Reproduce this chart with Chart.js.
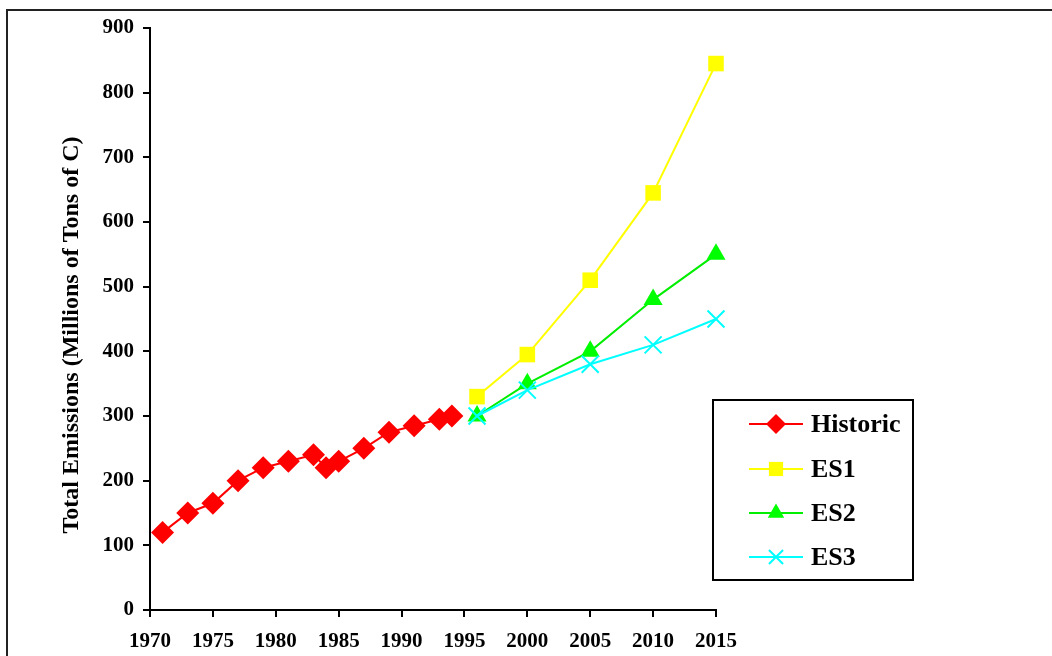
<!DOCTYPE html>
<html>
<head>
<meta charset="utf-8">
<script src="https://cdn.jsdelivr.net/npm/chart.js@4/dist/chart.umd.min.js"></script>
<style>
  html, body { margin: 0; padding: 0; background: #fff; }
  #wrap { width: 1052px; height: 656px; position: relative; }
</style>
</head>
<body>
<div id="wrap"><canvas id="emissionsChart" width="1052" height="656"></canvas></div>
<script>
// data
const histYears = [1971, 1973, 1975, 1977, 1979, 1981, 1983, 1984, 1985, 1987, 1989, 1991, 1993, 1994];
const histValues = [120, 150, 165, 200, 220, 230, 240, 220, 230, 250, 275, 285, 295, 300];
const scenarioYears = [1996, 2000, 2005, 2010, 2015];
const es1Values = [330, 395, 510, 645, 845];
const es2Values = [300, 350, 400, 480, 550];
const es3Values = [300, 340, 380, 410, 450];
const seriesNames = ['Historic', 'ES1', 'ES2', 'ES3'];
const yTitle = 'Total Emissions (Millions of Tons of C)';

const FONT = '"Liberation Serif", "Times New Roman", serif';

function pts(xs, ys) {
    return xs.map((x, i) => ({ x: x, y: ys[i] }));
}

// white page + the outer frame of the original figure
const frame = {
    id: 'frame',
    beforeDraw(chart) {
        const ctx = chart.ctx;
        ctx.save();
        ctx.fillStyle = '#fff';
        ctx.fillRect(0, 0, chart.width, chart.height);
        ctx.strokeStyle = '#222';
        ctx.lineWidth = 2;
        ctx.strokeRect(7, 10, 1200, 800);
        ctx.restore();
    }
};

// rotated y title, a bit below the centre of the axis like the original
const sideTitle = {
    id: 'sideTitle',
    afterDraw(chart) {
        const ctx = chart.ctx;
        ctx.save();
        ctx.translate(72, 335);
        ctx.rotate(-Math.PI / 2);
        ctx.font = 'bold 24px ' + FONT;
        ctx.fillStyle = '#000';
        ctx.textAlign = 'center';
        ctx.textBaseline = 'middle';
        ctx.fillText(yTitle, 0, 0);
        ctx.restore();
    }
};

// boxed legend inside the plot, lower right
const boxLegend = {
    id: 'boxLegend',
    afterDraw(chart) {
        const ctx = chart.ctx;
        const left = 713, top = 400, w = 200, h = 180;
        ctx.save();
        ctx.fillStyle = '#fff';
        ctx.fillRect(left, top, w, h);
        ctx.strokeStyle = '#000';
        ctx.lineWidth = 2;
        ctx.strokeRect(left, top, w, h);
        const rows = [424, 469, 513, 557];
        chart.data.datasets.forEach((ds, i) => {
            const y = rows[i];
            ctx.strokeStyle = ds.borderColor;
            ctx.lineWidth = 2;
            ctx.beginPath();
            ctx.moveTo(749, y);
            ctx.lineTo(803, y);
            ctx.stroke();
            ctx.fillStyle = ds.pointBackgroundColor;
            ctx.strokeStyle = ds.borderColor;
            ctx.lineWidth = ds.pointBorderWidth;
            Chart.helpers.drawPoint(ctx, {
                pointStyle: ds.pointStyle,
                rotation: 0,
                borderWidth: ds.pointBorderWidth,
                radius: ds.legendRadius
            }, 776, y);
            ctx.fillStyle = '#000';
            ctx.font = 'bold 26px ' + FONT;
            ctx.textAlign = 'left';
            ctx.textBaseline = 'middle';
            ctx.fillText(ds.label, 811, y + 1);
        });
        ctx.restore();
    }
};

const ctx = document.getElementById('emissionsChart').getContext('2d');
const emissionsChart = new Chart(ctx, {
    type: 'line',
    data: {
        datasets: [
            {
                label: seriesNames[0],
                data: pts(histYears, histValues),
                borderColor: '#ff0000',
                pointBackgroundColor: '#ff0000',
                pointStyle: 'rectRot',
                pointRadius: 11.5,
                pointBorderWidth: 0,
                legendRadius: 10,
                borderWidth: 2,
                clip: false,
                order: 3
            },
            {
                label: seriesNames[1],
                data: pts(scenarioYears, es1Values),
                borderColor: '#ffff00',
                pointBackgroundColor: '#ffff00',
                pointStyle: 'rect',
                pointRadius: 11,
                pointBorderWidth: 0,
                legendRadius: 10,
                borderWidth: 2,
                clip: false,
                order: 2
            },
            {
                label: seriesNames[2],
                data: pts(scenarioYears, es2Values),
                borderColor: '#00ee00',
                pointBackgroundColor: '#00ff00',
                pointStyle: 'triangle',
                pointRadius: 11,
                pointBorderWidth: 0,
                legendRadius: 9.5,
                borderWidth: 2,
                clip: false,
                order: 1
            },
            {
                label: seriesNames[3],
                data: pts(scenarioYears, es3Values),
                borderColor: '#00ffff',
                pointBackgroundColor: '#00ffff',
                pointStyle: 'crossRot',
                pointRadius: 12,
                pointBorderWidth: 2,
                legendRadius: 10,
                borderWidth: 2,
                clip: false,
                order: 0
            }
        ]
    },
    options: {
        responsive: false,
        animation: false,
        devicePixelRatio: 1,
        layout: { padding: { left: 0, top: 28, right: 336, bottom: 0 } },
        plugins: {
            legend: { display: false },
            tooltip: { enabled: false },
            title: { display: false }
        },
        elements: { line: { tension: 0 } },
        scales: {
            x: {
                type: 'linear',
                min: 1970,
                max: 2015,
                ticks: {
                    stepSize: 5,
                    color: '#000',
                    padding: 12,
                    font: { family: FONT, size: 21, weight: 'bold' },
                    callback: (v) => String(v)
                },
                grid: {
                    display: true,
                    drawOnChartArea: false,
                    drawTicks: true,
                    tickLength: 7,
                    color: '#000',
                    lineWidth: 2
                },
                border: { display: true, color: '#000', width: 2 },
                afterFit: (s) => { s.height = 46; }
            },
            y: {
                min: 0,
                max: 900,
                ticks: {
                    stepSize: 100,
                    color: '#000',
                    padding: 9,
                    font: { family: FONT, size: 21, weight: 'bold' }
                },
                grid: {
                    display: true,
                    drawOnChartArea: false,
                    drawTicks: true,
                    tickLength: 7,
                    color: '#000',
                    lineWidth: 2
                },
                border: { display: true, color: '#000', width: 2 },
                afterFit: (s) => { s.width = 150; }
            }
        }
    },
    plugins: [frame, sideTitle, boxLegend]
});
</script>
</body>
</html>
